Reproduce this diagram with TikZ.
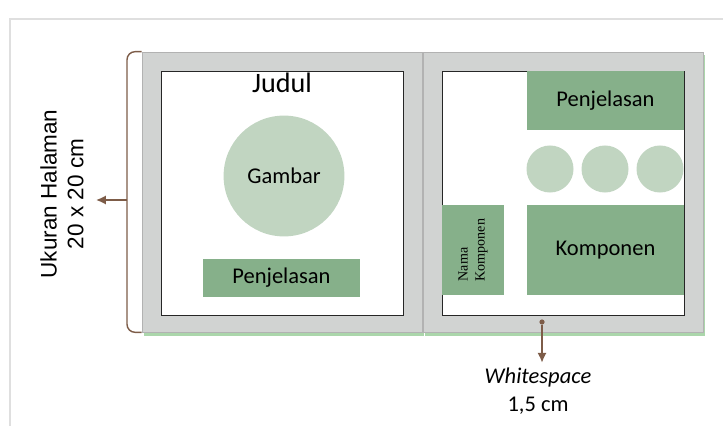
\documentclass[tikz,border=0pt]{standalone}
\usepackage{fontspec}
\setmainfont{Carlito}
\newfontfamily\labelfont{Liberation Sans}
\newfontfamily\namefont{Liberation Serif}
\usetikzlibrary{arrows.meta,shadows}
\definecolor{pagegrey}{RGB}{209,211,210}
\definecolor{leafgreen}{RGB}{134,176,138}
\definecolor{palegreen}{RGB}{193,213,193}
\definecolor{arrowbrown}{RGB}{125,92,72}
\begin{document}
\begin{tikzpicture}[x=0.025cm,y=-0.025cm]
		\tikzset{page/.style = {draw=gray!60,fill=pagegrey,minimum width=7cm,minimum height=7cm,inner sep=0,
			drop shadow={shadow xshift=1.5pt,shadow yshift=-2.5pt,fill=green!35!gray!70,opacity=.7}}}
		\tikzset{sheet/.style = {draw=black!85,fill=white,line width=.6pt,minimum width=6.05cm,minimum height=6.1cm,inner sep=0}}
		\tikzset{block/.style = {fill=leafgreen,minimum width=3.925cm,inner sep=0,font=\fontsize{16}{19}\selectfont}}
		\tikzset{bead/.style = {shape=circle,fill=palegreen,minimum size=1.175cm,inner sep=0}}
		\tikzset{link/.style = {->,> = {Latex[length=7pt,width=6.5pt]},draw=arrowbrown,line width=1.2pt}}
		\useasboundingbox (0,0) rectangle (723,426);
		\draw[gray!25,line width=1pt] (10,426) -- (10,19) -- (723,19);
		% two pages
		\node[page] (lpage) at (282,192) {};
		\node[page] (rpage) at (563,192) {};
		\node[sheet] (lsheet) at (282,193) {};
		\node[sheet] (rsheet) at (563,193) {};
		% left page
		\node[font=\fontsize{20}{24}\selectfont] (judul) at (282,83) {Judul};
		\node[shape=circle,fill=palegreen,minimum size=3.02cm,inner sep=0,font=\fontsize{16}{19}\selectfont] (gambar) at (284,176) {Gambar};
		\node[block,minimum height=.95cm] (lnote) at (281.5,278) {Penjelasan};
		% right page
		\node[block,minimum height=1.475cm] (rnote) at (605.5,100.5) {Penjelasan};
		\foreach \i/\x in {1/550,2/605,3/660}
			\node[bead] (bead\i) at (\x,169) {};
		\node[fill=leafgreen,rotate=90,minimum width=2.25cm,minimum height=1.55cm,inner sep=0,align=left,
			font=\namefont\fontsize{10}{12}\selectfont] (nama) at (473,250) {Nama\\Komponen};
		\node[block,minimum height=2.25cm] (komponen) at (605.5,250) {Komponen};
		% page size
		\coordinate (bracemid) at (127,200);
		\coordinate (brtip) at (96,200);
		\draw[arrowbrown,line width=1pt,rounded corners=.2cm] (lpage.north west) -| (bracemid) |- (lpage.south west);
		\draw[link] (bracemid) -- (brtip);
		\node[rotate=90,align=center,font=\labelfont\fontsize{16}{19}\selectfont] (halaman) at (62,194) {Ukuran Halaman\\20 x 20 cm};
		% whitespace
		\node[shape=circle,fill=arrowbrown,minimum size=.13cm,inner sep=0] (wsdot) at (542,322) {};
		\node[align=center,font=\fontsize{16}{20}\selectfont] (whitespace) at (538,391) {\textit{Whitespace}\\1,5 cm};
		\draw[link] (wsdot) -- (wsdot |- whitespace.north);
	\end{tikzpicture}
\end{document}
